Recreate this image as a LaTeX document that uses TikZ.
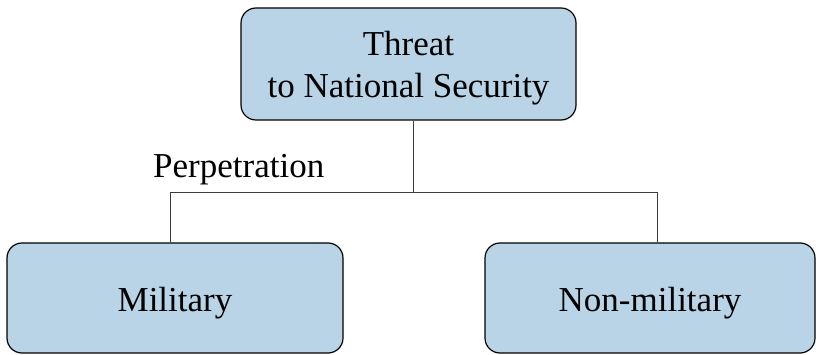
\documentclass[tikz,border=0pt]{standalone}
\usepackage{fontspec}
\setmainfont{Liberation Serif}
\usetikzlibrary{positioning}
\definecolor{boxblue}{RGB}{184,212,230}
\definecolor{linegray}{RGB}{60,60,60}
\tikzset{
	block/.style={draw=black, fill=boxblue, line width=1.2pt, rounded corners=15pt, align=center, inner sep=0pt},
	leaf/.style={block, minimum height=110pt, text height=35pt, text depth=8.75pt},
	link/.style={draw=linegray, line width=1pt}
}

\begin{document}
\begin{tikzpicture}[x=1pt, y=-1pt, font=\fontsize{35}{42}\selectfont]
				\useasboundingbox (0,0) rectangle (816,355);
				
				\node[block, minimum width=335pt, minimum height=112pt, text depth=0pt] (threat) at (408.5,64) {Threat\\to National Security};
				
				\node[leaf, minimum width=336pt] (military) at (175,298) {Military};
				\node[leaf, minimum width=330pt] (nonmil) at (650,298) {Non-military};
				
				\coordinate (split) at (413,193);
				\draw[link] (split |- threat.south) -- (split);
				\draw[link] (split) -| ([xshift=-5pt]military.north);
				\draw[link] (split) -| ([xshift=7pt]nonmil.north);
				
				\node[anchor=base west, inner sep=0pt] (perp) at (153,178) {Perpetration};
			\end{tikzpicture}
\end{document}
